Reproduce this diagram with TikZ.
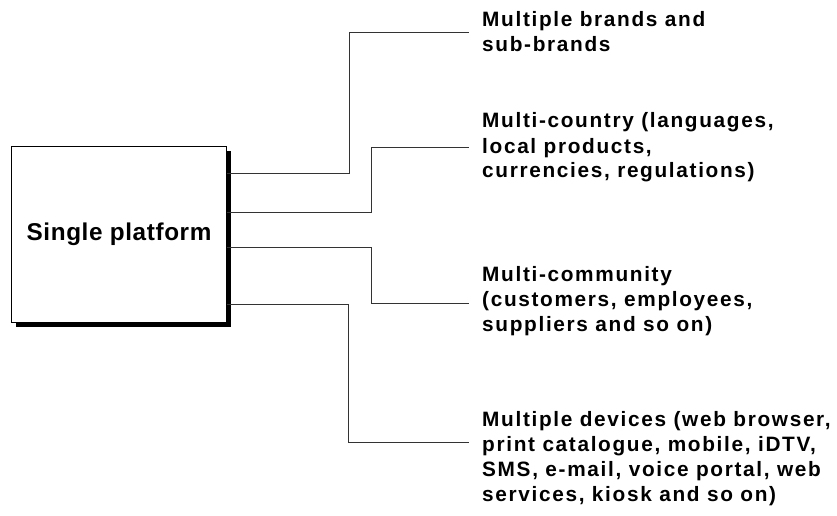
\documentclass[tikz,border=0pt]{standalone}
\usepackage{fontspec}
\usetikzlibrary{shadows}
% bold sans with open tracking for the item texts and the box title
\newfontfamily\itemfamily[LetterSpace=8.0]{Liberation Sans Bold}
\newfontfamily\boxfamily[LetterSpace=2.5]{Liberation Sans Bold}

\tikzset{
  conn/.style={draw=black!80, line width=1pt},
  platformbox/.style={draw=black, fill=white, line width=1pt,
    inner sep=0pt, minimum width=215pt, minimum height=176pt,
    drop shadow={shadow xshift=4pt, shadow yshift=-4pt, fill=black, opacity=1},
    font=\boxfamily\fontsize{24.3}{28}\selectfont},
  itemtext/.style={anchor=base west, inner sep=0pt,
    font=\itemfamily\fontsize{20.8}{25}\selectfont},
}

\begin{document}
\begin{tikzpicture}[x=1pt, y=-1pt]
\useasboundingbox (0,0) rectangle (837,516);

% central box
\node[platformbox, anchor=north west] (platform) at (11,146) {Single platform};

% the four capabilities
\node[itemtext] (brands) at (482,27)
  {\begin{tabular}[t]{@{}l@{}}Multiple brands and\\sub-brands\end{tabular}};
\node[itemtext] (country) at (482,128)
  {\begin{tabular}[t]{@{}l@{}}Multi-country (languages,\\local products,\\currencies, regulations)\end{tabular}};
\node[itemtext] (community) at (482,281)
  {\begin{tabular}[t]{@{}l@{}}Multi-community\\(customers, employees,\\suppliers and so on)\end{tabular}};
\node[itemtext] (devices) at (482,426)
  {\begin{tabular}[t]{@{}l@{}}Multiple devices (web browser,\\print catalogue, mobile, iDTV,\\SMS, e-mail, voice portal, web\\services, kiosk and so on)\end{tabular}};

% elbow connectors from the box to each text
\draw[conn] (platform.east |- 0,173) -- (349,173) |- ([xshift=-13pt]brands.base west |- 0,33);
\draw[conn] (platform.east |- 0,212) -- (371,212) |- ([xshift=-13pt]country.base west |- 0,147);
\draw[conn] (platform.east |- 0,247) -- (371,247) |- ([xshift=-13pt]community.base west |- 0,303);
\draw[conn] (platform.east |- 0,304) -- (348,304) |- ([xshift=-13pt]devices.base west |- 0,442);
\end{tikzpicture}
\end{document}
